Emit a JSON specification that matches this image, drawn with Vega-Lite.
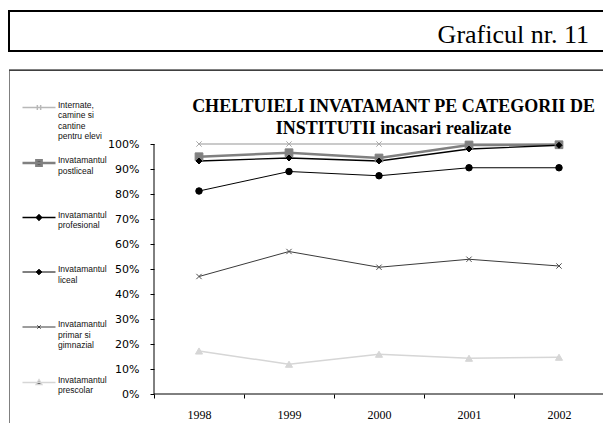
{
  "$schema": "https://vega.github.io/schema/vega-lite/v6.json",
  "padding": {"left": 8, "top": 10, "right": 0, "bottom": 0},
  "background": "white",
  "spacing": 17,
  "config": {"view": {"stroke": null}},
  "vconcat": [
    {
      "width": 597,
      "height": 40,
      "view": {"stroke": "black", "strokeWidth": 2},
      "title": {"text": "Graficul nr. 11", "orient": "top", "anchor": "end", "frame": "group", "offset": -37, "dx": -17, "font": "Liberation Serif", "fontSize": 26, "fontWeight": "normal", "color": "black"},
      "data": {"values": []},
      "mark": "text",
      "encoding": {}
    },
    {
      "width": 597,
      "height": 355,
      "view": {"stroke": "black", "strokeWidth": 1, "strokeDash": [1, 1]},
      "title": {"text": ["CHELTUIELI INVATAMANT PE CATEGORII DE", "INSTITUTII incasari realizate"], "orient": "top", "anchor": "middle", "frame": "group", "offset": -68, "dx": 86, "font": "Liberation Serif", "fontSize": 18, "fontWeight": "bold", "lineHeight": 22, "color": "black"},
      "data": {"values": [
        {"cat": "Internate,|camine si|cantine|pentru elevi", "year": "1998", "v": 1.0},
        {"cat": "Internate,|camine si|cantine|pentru elevi", "year": "1999", "v": 1.0},
        {"cat": "Internate,|camine si|cantine|pentru elevi", "year": "2000", "v": 1.0},
        {"cat": "Internate,|camine si|cantine|pentru elevi", "year": "2001", "v": 1.0},
        {"cat": "Internate,|camine si|cantine|pentru elevi", "year": "2002", "v": 1.0},
        {"cat": "Invatamantul|postliceal", "year": "1998", "v": 0.949},
        {"cat": "Invatamantul|postliceal", "year": "1999", "v": 0.965},
        {"cat": "Invatamantul|postliceal", "year": "2000", "v": 0.944},
        {"cat": "Invatamantul|postliceal", "year": "2001", "v": 0.996},
        {"cat": "Invatamantul|postliceal", "year": "2002", "v": 0.997},
        {"cat": "Invatamantul|profesional", "year": "1998", "v": 0.932},
        {"cat": "Invatamantul|profesional", "year": "1999", "v": 0.944},
        {"cat": "Invatamantul|profesional", "year": "2000", "v": 0.932},
        {"cat": "Invatamantul|profesional", "year": "2001", "v": 0.98},
        {"cat": "Invatamantul|profesional", "year": "2002", "v": 0.995},
        {"cat": "Invatamantul|liceal", "year": "1998", "v": 0.812},
        {"cat": "Invatamantul|liceal", "year": "1999", "v": 0.89},
        {"cat": "Invatamantul|liceal", "year": "2000", "v": 0.873},
        {"cat": "Invatamantul|liceal", "year": "2001", "v": 0.905},
        {"cat": "Invatamantul|liceal", "year": "2002", "v": 0.905},
        {"cat": "Invatamantul|primar si|gimnazial", "year": "1998", "v": 0.47},
        {"cat": "Invatamantul|primar si|gimnazial", "year": "1999", "v": 0.57},
        {"cat": "Invatamantul|primar si|gimnazial", "year": "2000", "v": 0.507},
        {"cat": "Invatamantul|primar si|gimnazial", "year": "2001", "v": 0.539},
        {"cat": "Invatamantul|primar si|gimnazial", "year": "2002", "v": 0.512},
        {"cat": "Invatamantul|prescolar", "year": "1998", "v": 0.172},
        {"cat": "Invatamantul|prescolar", "year": "1999", "v": 0.119},
        {"cat": "Invatamantul|prescolar", "year": "2000", "v": 0.159},
        {"cat": "Invatamantul|prescolar", "year": "2001", "v": 0.143},
        {"cat": "Invatamantul|prescolar", "year": "2002", "v": 0.147}
      ]},
      "resolve": {"scale": {"shape": "independent", "strokeWidth": "independent", "stroke": "independent", "size": "independent"}},
      "layer": [
        {
          "mark": {"type": "line", "strokeJoin": "miter"},
          "encoding": {
            "x": {"field": "year", "type": "ordinal", "bandPosition": 0.5,
                  "scale": {"type": "band", "paddingInner": 0, "paddingOuter": 0.8167, "align": 0.9864},
                  "axis": {"orient": "bottom", "offset": -31, "domain": false, "tickBand": "extent", "ticks": true, "tickSize": 4, "tickColor": "black", "labelFont": "Liberation Serif", "labelFontSize": 12, "labelColor": "black", "labelPadding": 11, "labelAngle": 0, "title": null, "grid": false}},
            "y": {"field": "v", "type": "quantitative",
                  "scale": {"domain": [-0.124, 1.296], "nice": false, "zero": false},
                  "axis": {"orient": "left", "offset": -145, "values": [0, 0.1, 0.2, 0.3, 0.4, 0.5, 0.6, 0.7, 0.8, 0.9, 1], "format": ".0%", "labelOverlap": false, "domain": false, "tickSize": 4, "tickColor": "black", "labelFont": "DejaVu Sans", "labelFontSize": 11, "labelColor": "black", "labelPadding": 11, "title": null, "grid": false}},
            "color": {"field": "cat", "type": "nominal", "legend": null,
                      "scale": {"domain": ["Internate,|camine si|cantine|pentru elevi", "Invatamantul|postliceal", "Invatamantul|profesional", "Invatamantul|liceal", "Invatamantul|primar si|gimnazial", "Invatamantul|prescolar"],
                                "range": ["#b8b8b8", "#808080", "#000000", "#000000", "#3a3a3a", "#d6d6d6"]}},
            "strokeWidth": {"field": "cat", "type": "nominal", "legend": null,
                      "scale": {"type": "ordinal", "domain": ["Internate,|camine si|cantine|pentru elevi", "Invatamantul|postliceal", "Invatamantul|profesional", "Invatamantul|liceal", "Invatamantul|primar si|gimnazial", "Invatamantul|prescolar"],
                                "range": [1.5, 2.5, 1.3, 1, 1, 1.5]}}
          }
        },
        {
          "mark": {"type": "point", "filled": true, "opacity": 1, "strokeWidth": 1},
          "encoding": {
            "x": {"field": "year", "type": "ordinal", "bandPosition": 0.5,
                  "axis": {"orient": "bottom", "offset": -31, "domain": false, "tickBand": "extent", "ticks": true, "tickSize": 4, "tickColor": "black", "labelFont": "Liberation Serif", "labelFontSize": 12, "labelColor": "black", "labelPadding": 11, "labelAngle": 0, "title": null, "grid": false}},
            "y": {"field": "v", "type": "quantitative",
                  "axis": {"orient": "left", "offset": -145, "values": [0, 0.1, 0.2, 0.3, 0.4, 0.5, 0.6, 0.7, 0.8, 0.9, 1], "format": ".0%", "labelOverlap": false, "domain": false, "tickSize": 4, "tickColor": "black", "labelFont": "DejaVu Sans", "labelFontSize": 11, "labelColor": "black", "labelPadding": 11, "title": null, "grid": false}},
            "color": {"field": "cat", "type": "nominal", "legend": null},
            "stroke": {"field": "cat", "type": "nominal", "legend": null,
                      "scale": {"domain": ["Internate,|camine si|cantine|pentru elevi", "Invatamantul|postliceal", "Invatamantul|profesional", "Invatamantul|liceal", "Invatamantul|primar si|gimnazial", "Invatamantul|prescolar"],
                                "range": ["#a8a8a8", "#808080", "#000000", "#000000", "#505050", "#d6d6d6"]}},
            "shape": {"field": "cat", "type": "nominal", "legend": null,
                      "scale": {"domain": ["Internate,|camine si|cantine|pentru elevi", "Invatamantul|postliceal", "Invatamantul|profesional", "Invatamantul|liceal", "Invatamantul|primar si|gimnazial", "Invatamantul|prescolar"],
                                "range": ["M-1,-1L1,1M-1,1L1,-1", "square", "diamond", "circle", "M-1,-1L1,1M-1,1L1,-1", "triangle-up"]}},
            "size": {"field": "cat", "type": "nominal", "legend": null,
                      "scale": {"type": "ordinal", "domain": ["Internate,|camine si|cantine|pentru elevi", "Invatamantul|postliceal", "Invatamantul|profesional", "Invatamantul|liceal", "Invatamantul|primar si|gimnazial", "Invatamantul|prescolar"],
                                "range": [28, 60, 36, 42, 28, 50]}}
          }
        },
        {
          "data": {"values": [{}]},
          "mark": {"type": "rule", "color": "black", "strokeWidth": 1},
          "encoding": {
            "y": {"datum": 1.296, "type": "quantitative",
                  "axis": {"orient": "left", "offset": -145, "values": [0, 0.1, 0.2, 0.3, 0.4, 0.5, 0.6, 0.7, 0.8, 0.9, 1], "format": ".0%", "labelOverlap": false, "domain": false, "tickSize": 4, "tickColor": "black", "labelFont": "DejaVu Sans", "labelFontSize": 11, "labelColor": "black", "labelPadding": 11, "title": null, "grid": false}}
          }
        },
        {
          "data": {"values": [{}]},
          "mark": {"type": "rule", "color": "black", "strokeWidth": 1},
          "encoding": {
            "x": {"datum": "1998", "type": "ordinal", "bandPosition": 0,
                  "axis": {"orient": "bottom", "offset": -31, "domain": false, "tickBand": "extent", "ticks": true, "tickSize": 4, "tickColor": "black", "labelFont": "Liberation Serif", "labelFontSize": 12, "labelColor": "black", "labelPadding": 11, "labelAngle": 0, "title": null, "grid": false}},
            "y": {"datum": 0, "type": "quantitative",
                  "axis": {"orient": "left", "offset": -145, "values": [0, 0.1, 0.2, 0.3, 0.4, 0.5, 0.6, 0.7, 0.8, 0.9, 1], "format": ".0%", "labelOverlap": false, "domain": false, "tickSize": 4, "tickColor": "black", "labelFont": "DejaVu Sans", "labelFontSize": 11, "labelColor": "black", "labelPadding": 11, "title": null, "grid": false}},
            "y2": {"datum": 1}
          }
        },
        {
          "data": {"values": [{}]},
          "mark": {"type": "rule", "color": "black", "strokeWidth": 1},
          "encoding": {
            "x": {"datum": "1998", "type": "ordinal", "bandPosition": 0,
                  "axis": {"orient": "bottom", "offset": -31, "domain": false, "tickBand": "extent", "ticks": true, "tickSize": 4, "tickColor": "black", "labelFont": "Liberation Serif", "labelFontSize": 12, "labelColor": "black", "labelPadding": 11, "labelAngle": 0, "title": null, "grid": false}},
            "x2": {"datum": "2002", "bandPosition": 1},
            "y": {"datum": 0, "type": "quantitative",
                  "axis": {"orient": "left", "offset": -145, "values": [0, 0.1, 0.2, 0.3, 0.4, 0.5, 0.6, 0.7, 0.8, 0.9, 1], "format": ".0%", "labelOverlap": false, "domain": false, "tickSize": 4, "tickColor": "black", "labelFont": "DejaVu Sans", "labelFontSize": 11, "labelColor": "black", "labelPadding": 11, "title": null, "grid": false}}
          }
        },
        {
          "transform": [{"filter": "false"}],
          "mark": {"type": "point", "filled": true, "opacity": 1},
          "encoding": {
            "x": {"field": "year", "type": "ordinal",
                  "axis": {"orient": "bottom", "offset": -31, "domain": false, "tickBand": "extent", "ticks": true, "tickSize": 4, "tickColor": "black", "labelFont": "Liberation Serif", "labelFontSize": 12, "labelColor": "black", "labelPadding": 11, "labelAngle": 0, "title": null, "grid": false}},
            "y": {"field": "v", "type": "quantitative",
                  "axis": {"orient": "left", "offset": -145, "values": [0, 0.1, 0.2, 0.3, 0.4, 0.5, 0.6, 0.7, 0.8, 0.9, 1], "format": ".0%", "labelOverlap": false, "domain": false, "tickSize": 4, "tickColor": "black", "labelFont": "DejaVu Sans", "labelFontSize": 11, "labelColor": "black", "labelPadding": 11, "title": null, "grid": false}},
            "shape": {"field": "cat", "type": "nominal",
                      "scale": {"domain": ["Internate,|camine si|cantine|pentru elevi", "Invatamantul|postliceal", "Invatamantul|profesional", "Invatamantul|liceal", "Invatamantul|primar si|gimnazial", "Invatamantul|prescolar"],
                                "range": ["M-1,0H1M-0.1,-0.15V0.15M0.1,-0.15V0.15", "M-1,0H1M-0.16,-0.16H0.16V0.16H-0.16Z", "M-1,0H1M0,-0.17L0.17,0L0,0.17L-0.17,0Z", "M-1,0H1M0,-0.17L0.17,0L0,0.17L-0.17,0Z", "M-1,0H1M-0.1,-0.1L0.1,0.1M-0.1,0.1L0.1,-0.1", "M-1,0H1M0,-0.17L0.17,0.12L-0.17,0.12Z"]},
                      "legend": {"title": null, "orient": "none", "legendX": 12, "legendY": 20, "padding": 0, "symbolSize": 1089, "rowPadding": 4, "gridAlign": "all", "labelFont": "Liberation Sans", "labelFontSize": 8.5, "labelColor": "#111111", "labelOffset": 1, "labelLimit": 300, "labelBaseline": "alphabetic", "labelExpr": "split(datum.label, '|')", "symbolOpacity": 1, "encode": {"labels": {"update": {"lineHeight": {"value": 12}}}}}},
            "fill": {"field": "cat", "type": "nominal",
                      "scale": {"domain": ["Internate,|camine si|cantine|pentru elevi", "Invatamantul|postliceal", "Invatamantul|profesional", "Invatamantul|liceal", "Invatamantul|primar si|gimnazial", "Invatamantul|prescolar"],
                                "range": ["#b8b8b8", "#808080", "#000000", "#000000", "#3a3a3a", "#d6d6d6"]},
                      "legend": {"title": null, "orient": "none", "legendX": 12, "legendY": 20, "padding": 0, "symbolSize": 1089, "rowPadding": 4, "gridAlign": "all", "labelFont": "Liberation Sans", "labelFontSize": 8.5, "labelColor": "#111111", "labelOffset": 1, "labelLimit": 300, "labelBaseline": "alphabetic", "labelExpr": "split(datum.label, '|')", "symbolOpacity": 1, "encode": {"labels": {"update": {"lineHeight": {"value": 12}}}}}},
            "stroke": {"field": "cat", "type": "nominal",
                      "scale": {"domain": ["Internate,|camine si|cantine|pentru elevi", "Invatamantul|postliceal", "Invatamantul|profesional", "Invatamantul|liceal", "Invatamantul|primar si|gimnazial", "Invatamantul|prescolar"],
                                "range": ["#b8b8b8", "#808080", "#000000", "#000000", "#3a3a3a", "#d6d6d6"]},
                      "legend": {"title": null, "orient": "none", "legendX": 12, "legendY": 20, "padding": 0, "symbolSize": 1089, "rowPadding": 4, "gridAlign": "all", "labelFont": "Liberation Sans", "labelFontSize": 8.5, "labelColor": "#111111", "labelOffset": 1, "labelLimit": 300, "labelBaseline": "alphabetic", "labelExpr": "split(datum.label, '|')", "symbolOpacity": 1, "encode": {"labels": {"update": {"lineHeight": {"value": 12}}}}}},
            "strokeWidth": {"field": "cat", "type": "nominal",
                      "scale": {"type": "ordinal", "domain": ["Internate,|camine si|cantine|pentru elevi", "Invatamantul|postliceal", "Invatamantul|profesional", "Invatamantul|liceal", "Invatamantul|primar si|gimnazial", "Invatamantul|prescolar"],
                                "range": [1.5, 2.5, 1.3, 1, 1, 1.5]},
                      "legend": {"title": null, "orient": "none", "legendX": 12, "legendY": 20, "padding": 0, "symbolSize": 1089, "rowPadding": 4, "gridAlign": "all", "labelFont": "Liberation Sans", "labelFontSize": 8.5, "labelColor": "#111111", "labelOffset": 1, "labelLimit": 300, "labelBaseline": "alphabetic", "labelExpr": "split(datum.label, '|')", "symbolOpacity": 1, "encode": {"labels": {"update": {"lineHeight": {"value": 12}}}}}}
          }
        }
      ]
    }
  ]
}
